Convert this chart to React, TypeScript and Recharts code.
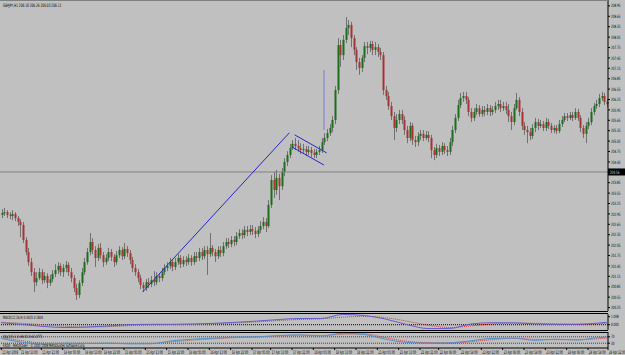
import React from 'react';
import { ComposedChart, Bar, XAxis, YAxis, ReferenceLine, LineChart, Line } from 'recharts';

const BG = '#c0c0c0';
const BULL = '#1a6e1a';
const BEAR = '#a83232';
const WICK = '#707070';
const TREND = '#2626c4';
const FONT = 'DejaVu Sans, sans-serif';

const symbolTitle = 'GBPJPY,H1  206.18 206.26 206.03 206.12';
const macdTitle = 'MACD(12,26,9) 0.3015 0.1803';
const stochTitle = 'Stoch(5,3,3) 68.4123 62.0771';
const footer = 'FXDD - MetaTrader - \u00a9 2001-2008 MetaQuotes Software Corp.';

const opens = [
  202.92, 202.98, 203.00, 202.92, 202.89, 202.95, 202.83, 202.72, 202.63, 202.20,
  201.85, 201.56, 201.27, 200.98, 201.10, 201.27, 201.04, 201.16, 200.96, 201.07,
  201.22, 201.33, 201.45, 201.27, 201.39, 201.48, 201.27, 201.10, 200.81, 200.61,
  200.96, 201.27, 201.56, 201.85, 202.14, 201.91, 201.68, 201.97, 201.76, 201.56,
  201.68, 201.85, 201.71, 201.56, 201.76, 201.91, 201.73, 201.94, 201.82, 201.62,
  201.39, 201.27, 201.10, 200.90, 200.81, 200.98, 200.93, 201.04, 200.98, 201.16,
  201.10, 201.27, 201.39, 201.45, 201.56, 201.42, 201.56, 201.68, 201.50, 201.62,
  201.56, 201.68, 201.56, 201.73, 201.68, 201.85, 201.73, 201.91, 201.79, 201.97,
  201.85, 201.73, 201.91, 201.82, 202.02, 202.14, 202.08, 202.20, 202.14, 202.31,
  202.40, 202.34, 202.49, 202.43, 202.51, 202.46, 202.37, 202.49, 202.60, 202.72,
  202.60, 203.21, 203.93, 203.64, 203.99, 203.75, 204.16, 204.45, 204.65, 204.85,
  204.97, 204.91, 204.85, 204.79, 204.82, 204.74, 204.79, 204.71, 204.65, 204.74,
  204.79, 205.02, 205.14, 205.28, 205.43, 205.66, 206.52, 207.82, 207.53, 207.97,
  208.31, 208.40, 208.02, 207.68, 207.33, 207.16, 207.45, 207.79, 207.74, 207.85,
  207.68, 207.76, 207.62, 207.53, 206.52, 206.35, 206.06, 205.77, 205.43, 205.66,
  205.83, 205.66, 205.37, 205.14, 205.49, 205.08, 205.02, 205.20, 205.26, 205.14,
  205.23, 205.14, 204.79, 204.65, 204.85, 204.74, 204.91, 204.79, 204.74, 205.02,
  205.37, 205.72, 206.09, 206.29, 206.35, 206.24, 205.89, 205.72, 205.89, 206.00,
  205.83, 205.95, 205.89, 206.00, 205.89, 205.95, 206.06, 206.12, 206.00, 206.06,
  205.95, 205.77, 205.60, 206.00, 206.24, 205.89, 205.49, 205.37, 205.31, 205.20,
  205.43, 205.60, 205.49, 205.54, 205.43, 205.60, 205.49, 205.37, 205.43, 205.34,
  205.54, 205.66, 205.77, 205.72, 205.80, 205.72, 205.89, 205.72, 205.43, 205.26,
  205.49, 205.60, 205.89, 206.06, 206.12, 206.29, 206.35, 206.18,
];

const highs = [
  203.09, 203.12, 203.06, 203.00, 203.06, 203.00, 202.89, 202.80, 202.72, 202.28,
  201.97, 201.68, 201.39, 201.27, 201.39, 201.36, 201.27, 201.24, 201.19, 201.33,
  201.50, 201.56, 201.53, 201.50, 201.59, 201.56, 201.39, 201.19, 200.93, 201.04,
  201.39, 201.68, 201.97, 202.40, 202.25, 202.02, 202.08, 202.11, 201.85, 201.79,
  201.97, 201.94, 201.79, 201.88, 202.02, 201.99, 202.11, 202.02, 201.91, 201.71,
  201.50, 201.36, 201.19, 200.98, 201.07, 201.10, 201.16, 201.30, 201.27, 201.24,
  201.39, 201.50, 201.56, 201.68, 201.65, 201.68, 201.79, 201.76, 201.73, 201.73,
  201.79, 201.76, 201.85, 201.85, 201.97, 201.97, 202.02, 202.02, 202.40, 202.05,
  201.94, 202.02, 202.02, 202.14, 202.25, 202.25, 202.31, 202.31, 202.43, 202.51,
  202.51, 202.60, 202.60, 202.63, 202.63, 202.57, 202.60, 202.74, 202.86, 202.83,
  203.35, 204.07, 204.16, 204.22, 204.10, 204.27, 204.56, 204.76, 204.97, 205.08,
  205.14, 205.08, 204.99, 204.97, 204.91, 204.91, 204.88, 204.82, 204.82, 204.91,
  205.14, 205.28, 205.40, 205.54, 205.77, 206.64, 208.02, 207.97, 208.11, 208.63,
  208.54, 208.49, 208.11, 207.76, 207.45, 207.53, 207.91, 207.91, 207.94, 207.94,
  207.91, 207.85, 207.74, 207.62, 206.64, 206.47, 206.18, 205.89, 205.83, 205.95,
  205.95, 205.77, 205.49, 205.60, 205.57, 205.20, 205.31, 205.37, 205.37, 205.34,
  205.34, 205.23, 204.88, 204.97, 204.94, 205.02, 204.99, 204.91, 205.14, 205.49,
  205.83, 206.24, 206.44, 206.47, 206.47, 206.32, 206.00, 206.00, 206.12, 206.09,
  206.06, 206.06, 206.12, 206.09, 206.06, 206.18, 206.24, 206.24, 206.18, 206.18,
  206.12, 205.89, 206.12, 206.44, 206.32, 206.00, 205.60, 205.49, 205.43, 205.54,
  205.72, 205.69, 205.66, 205.63, 205.72, 205.69, 205.57, 205.51, 205.51, 205.66,
  205.77, 205.86, 205.86, 205.89, 205.89, 206.00, 205.98, 205.80, 205.51, 205.60,
  205.72, 206.00, 206.15, 206.24, 206.41, 206.47, 206.44, 206.26,
];

const lows = [
  202.83, 202.89, 202.83, 202.80, 202.77, 202.74, 202.60, 202.28, 202.11, 201.76,
  201.45, 201.16, 200.70, 200.87, 201.04, 200.93, 200.96, 200.81, 200.87, 200.98,
  201.13, 201.22, 201.16, 201.13, 201.27, 201.16, 200.98, 200.70, 200.47, 200.52,
  200.87, 201.19, 201.48, 201.76, 201.79, 201.42, 201.59, 201.65, 201.42, 201.48,
  201.59, 201.59, 201.42, 201.48, 201.68, 201.62, 201.65, 201.71, 201.50, 201.27,
  201.16, 200.98, 200.78, 200.70, 200.73, 200.81, 200.84, 200.87, 200.90, 200.98,
  201.01, 201.19, 201.30, 201.36, 201.30, 201.33, 201.48, 201.39, 201.42, 201.45,
  201.48, 201.45, 201.48, 201.56, 201.59, 201.62, 201.65, 201.19, 201.71, 201.73,
  201.56, 201.65, 201.71, 201.73, 201.94, 201.97, 201.99, 202.02, 202.05, 202.23,
  202.23, 202.25, 202.31, 202.34, 202.34, 202.25, 202.28, 202.40, 202.51, 202.43,
  202.54, 203.12, 203.41, 203.50, 203.35, 203.64, 204.04, 204.33, 204.56, 204.79,
  204.79, 204.74, 204.68, 204.71, 204.62, 204.65, 204.59, 204.56, 204.56, 204.65,
  204.71, 204.94, 205.05, 205.20, 205.31, 205.54, 206.41, 207.19, 207.39, 207.88,
  208.11, 207.76, 207.53, 207.10, 206.96, 207.04, 207.33, 207.56, 207.62, 207.53,
  207.53, 207.48, 207.39, 206.38, 206.24, 205.95, 205.66, 205.08, 205.31, 205.54,
  205.54, 205.23, 204.99, 205.05, 204.94, 204.88, 204.91, 205.08, 205.05, 205.08,
  205.02, 204.56, 204.50, 204.56, 204.62, 204.65, 204.68, 204.62, 204.65, 204.91,
  205.28, 205.63, 206.00, 206.18, 206.12, 205.77, 205.60, 205.63, 205.80, 205.75,
  205.75, 205.77, 205.80, 205.77, 205.80, 205.86, 205.95, 205.89, 205.92, 205.83,
  205.60, 205.37, 205.51, 205.95, 205.77, 205.37, 205.23, 204.99, 205.08, 205.11,
  205.31, 205.37, 205.43, 205.34, 205.34, 205.40, 205.28, 205.28, 205.26, 205.28,
  205.46, 205.60, 205.63, 205.66, 205.63, 205.66, 205.63, 205.31, 205.14, 204.99,
  205.40, 205.51, 205.80, 205.98, 206.03, 206.21, 206.09, 206.03,
];

const closes = [
  202.98, 203.00, 202.92, 202.89, 202.95, 202.83, 202.72, 202.63, 202.20, 201.85,
  201.56, 201.27, 200.98, 201.10, 201.27, 201.04, 201.16, 200.96, 201.07, 201.22,
  201.33, 201.45, 201.27, 201.39, 201.48, 201.27, 201.10, 200.81, 200.61, 200.96,
  201.27, 201.56, 201.85, 202.14, 201.91, 201.68, 201.97, 201.76, 201.56, 201.68,
  201.85, 201.71, 201.56, 201.76, 201.91, 201.73, 201.94, 201.82, 201.62, 201.39,
  201.27, 201.10, 200.90, 200.81, 200.98, 200.93, 201.04, 200.98, 201.16, 201.10,
  201.27, 201.39, 201.45, 201.56, 201.42, 201.56, 201.68, 201.50, 201.62, 201.56,
  201.68, 201.56, 201.73, 201.68, 201.85, 201.73, 201.91, 201.79, 201.97, 201.85,
  201.73, 201.91, 201.82, 202.02, 202.14, 202.08, 202.20, 202.14, 202.31, 202.40,
  202.34, 202.49, 202.43, 202.51, 202.46, 202.37, 202.49, 202.60, 202.72, 202.60,
  203.21, 203.93, 203.64, 203.99, 203.75, 204.16, 204.45, 204.65, 204.85, 204.97,
  204.91, 204.85, 204.79, 204.82, 204.74, 204.79, 204.71, 204.65, 204.74, 204.79,
  205.02, 205.14, 205.28, 205.43, 205.66, 206.52, 207.82, 207.53, 207.97, 208.31,
  208.40, 208.02, 207.68, 207.33, 207.16, 207.45, 207.79, 207.74, 207.85, 207.68,
  207.76, 207.62, 207.53, 206.52, 206.35, 206.06, 205.77, 205.43, 205.66, 205.83,
  205.66, 205.37, 205.14, 205.49, 205.08, 205.02, 205.20, 205.26, 205.14, 205.23,
  205.14, 204.79, 204.65, 204.85, 204.74, 204.91, 204.79, 204.74, 205.02, 205.37,
  205.72, 206.09, 206.29, 206.35, 206.24, 205.89, 205.72, 205.89, 206.00, 205.83,
  205.95, 205.89, 206.00, 205.89, 205.95, 206.06, 206.12, 206.00, 206.06, 205.95,
  205.77, 205.60, 206.00, 206.24, 205.89, 205.49, 205.37, 205.31, 205.20, 205.43,
  205.60, 205.49, 205.54, 205.43, 205.60, 205.49, 205.37, 205.43, 205.34, 205.54,
  205.66, 205.77, 205.72, 205.80, 205.72, 205.89, 205.72, 205.43, 205.26, 205.49,
  205.60, 205.89, 206.06, 206.12, 206.29, 206.35, 206.18, 206.12,
];

const priceTicks = [
  208.95, 208.65, 208.35, 208.05, 207.75, 207.45, 207.15, 206.85, 206.55, 206.25,
  205.95, 205.65, 205.35, 205.05, 204.75, 204.45, 204.15, 203.85, 203.55, 203.25,
  202.95, 202.65, 202.35, 202.05, 201.75, 201.45, 201.15, 200.85, 200.55, 200.25,
];
const priceDomain = [200.15, 209.12];
const bidPrice = 204.16;

// drawn objects (bar index, price)
const trendLines = [
  { x1: 53, y1: 200.70, x2: 108, y2: 205.29, color: TREND },
  { x1: 110, y1: 205.23, x2: 122, y2: 204.71, color: TREND },
  { x1: 109, y1: 204.88, x2: 121, y2: 204.36, color: TREND },
  { x1: 121, y1: 207.10, x2: 121, y2: 205.37, color: '#7a7ae0' },
];

const timeTickPos = [0, 7, 15, 23, 31, 38, 46, 54, 62, 70, 78, 86, 94, 101, 109, 117, 125, 133, 141, 149, 157, 164, 172, 180, 188, 196, 204, 212, 220, 227.5];
const timeLabels = [
  '11 Apr 2008', '11 Apr 13:00', '11 Apr 21:00', '14 Apr 05:00', '14 Apr 13:00', '14 Apr 21:00',
  '15 Apr 05:00', '15 Apr 13:00', '15 Apr 21:00', '16 Apr 05:00', '16 Apr 13:00', '16 Apr 21:00',
  '17 Apr 05:00', '17 Apr 13:00', '17 Apr 21:00', '18 Apr 05:00', '18 Apr 13:00', '18 Apr 21:00',
  '21 Apr 05:00', '21 Apr 13:00', '21 Apr 21:00', '22 Apr 06:00', '22 Apr 14:00', '22 Apr 22:00',
  '23 Apr 06:00', '23 Apr 14:00', '23 Apr 22:00', '24 Apr 06:00', '24 Apr 14:00', '24 Apr 22:00',
];

const sampleIdx = [0, 8, 16, 24, 32, 40, 48, 56, 64, 72, 80, 88, 96, 104, 112, 120, 128, 136, 144, 152, 160, 168, 176, 184, 192, 200, 208, 216, 224, 227];
const macdMain = [0.25, 0.03, -0.22, -0.35, -0.29, -0.16, 0.00, 0.05, 0.05, 0.09, 0.18, 0.30, 0.46, 0.65, 0.78, 0.78, 1.28, 1.15, 0.71, 0.03, -0.48, -0.48, 0.09, 0.25, 0.24, 0.11, 0.05, 0.05, 0.21, 0.30];
const macdSignal = [0.30, 0.18, -0.02, -0.20, -0.28, -0.24, -0.12, -0.02, 0.03, 0.06, 0.12, 0.22, 0.36, 0.52, 0.66, 0.74, 0.95, 1.05, 0.88, 0.45, -0.05, -0.35, -0.15, 0.10, 0.20, 0.18, 0.10, 0.07, 0.12, 0.18];
const macdTicks = [1.008, 0];
const macdDomain = [-0.66, 1.34];

const stochMain = [60, 35, 25, 30, 28, 30, 26, 27, 45, 55, 62, 68, 70, 78, 82, 75, 92, 85, 55, 35, 30, 32, 45, 60, 62, 48, 55, 50, 65, 68];
const stochSignal = [65, 45, 30, 28, 29, 29, 28, 27, 38, 50, 58, 65, 69, 75, 80, 78, 86, 88, 65, 42, 33, 31, 40, 52, 60, 54, 52, 52, 58, 62];
const stochLevels = [70, 30];
const stochTicks = [70, 30];

const candles = opens.map((o, i) => ({ i, o, h: highs[i], l: lows[i], c: closes[i] }));
const macdData = sampleIdx.map((i, k) => ({ i, m: macdMain[k], s: macdSignal[k] }));
const stochData = sampleIdx.map((i, k) => ({ i, k: stochMain[k], d: stochSignal[k] }));

const Candle = (props: any) => {
  const { x, y, width, height, payload } = props;
  if (!payload || height == null) return null;
  const { o, h, l, c } = payload;
  const top = Math.min(y, y + height);
  const full = Math.abs(height);
  const ratio = full / (h - l);
  const bTop = top + (h - Math.max(o, c)) * ratio;
  const bBot = top + (h - Math.min(o, c)) * ratio;
  const cx = Math.round(x + width / 2);
  const bull = c >= o;
  return (
    <g>
      <line x1={cx + 0.5} x2={cx + 0.5} y1={top} y2={top + full} stroke={WICK} strokeWidth={1} />
      <rect x={cx - 0.5} y={bTop} width={2} height={Math.max(bBot - bTop, 1)} fill={bull ? BULL : BEAR} />
    </g>
  );
};

// text squeezed horizontally, like the bitmap font of the original
const Squeezed = ({ x, y, s, sx, size, fill }: any) => (
  <text transform={`translate(${x},${y}) scale(${sx},1)`} fontSize={size} fontFamily={FONT} fill={fill || '#000'}>
    {s}
  </text>
);

const AxisTick = (props: any) => {
  const { x, y, payload, digits } = props;
  const v = payload.value;
  const s = typeof v === 'number' ? v.toFixed(digits) : String(v);
  return (
    <g>
      <line x1={x} x2={x + 2} y1={y} y2={y} stroke="#000" strokeWidth={1} />
      <Squeezed x={x + 3} y={y + 1.6} s={s} sx={0.6} size={4.5} />
    </g>
  );
};

const TimeTick = (props: any) => {
  const { x, y, payload } = props;
  const k = timeTickPos.indexOf(payload.value);
  return (
    <g>
      <line x1={x} x2={x} y1={y} y2={y + 2} stroke="#000" strokeWidth={1} />
      <Squeezed x={x + 1} y={y + 6.3} s={timeLabels[k]} sx={0.52} size={4.9} />
    </g>
  );
};

const BidLabel = (props: any) => {
  const vb = props.viewBox || {};
  const x = (vb.x || 0) + (vb.width || 0);
  const y = vb.y || 0;
  return (
    <g>
      <rect x={x} y={y - 3.5} width={17} height={7} fill="#000" />
      <Squeezed x={x + 2} y={y + 1.6} s={bidPrice.toFixed(2)} sx={0.6} size={4.5} fill="#fff" />
    </g>
  );
};

export default function App() {
  return (
    <div style={{ position: 'absolute', left: 0, top: 0, width: 625, height: 355, background: BG, overflow: 'hidden' }}>
      <div style={{ position: 'absolute', left: 0, top: 0 }}>
        <ComposedChart width={625} height={312} data={candles} margin={{ top: 0, right: 0, bottom: 1, left: 0 }} barCategoryGap={0}>
          <XAxis dataKey="i" type="category" hide />
          <YAxis
            orientation="right"
            width={17}
            domain={priceDomain}
            ticks={priceTicks}
            allowDataOverflow
            interval={0}
            tickSize={0}
            tickMargin={0}
            tickLine={false}
            axisLine={{ stroke: '#000' }}
            tick={<AxisTick digits={2} />}
          />
          <ReferenceLine y={bidPrice} stroke="#808080" strokeWidth={1} label={<BidLabel />} />
          <Bar dataKey={(d: any) => [d.l, d.h]} shape={<Candle />} isAnimationActive={false} />
          {trendLines.map((t, k) => (
            <ReferenceLine
              key={k}
              segment={[{ x: t.x1, y: t.y1 }, { x: t.x2, y: t.y2 }]}
              stroke={t.color}
              strokeWidth={1}
              ifOverflow="visible"
            />
          ))}
        </ComposedChart>
      </div>
      <div style={{ position: 'absolute', left: 0, top: 313 }}>
        <LineChart width={625} height={18} data={macdData} margin={{ top: 1, right: 0, bottom: 1, left: 0 }}>
          <XAxis dataKey="i" type="number" domain={[-0.5, 227.5]} hide allowDataOverflow />
          <YAxis
            orientation="right"
            width={17}
            domain={macdDomain}
            ticks={macdTicks}
            allowDataOverflow
            interval={0}
            tickSize={0}
            tickMargin={0}
            tickLine={false}
            axisLine={{ stroke: '#000' }}
            tick={<AxisTick digits={3} />}
          />
          <ReferenceLine y={0} stroke="#000" strokeDasharray="1 1" />
          <Line dataKey="s" type="monotone" stroke="#d04040" strokeDasharray="1 1" dot={false} isAnimationActive={false} />
          <Line dataKey="m" type="monotone" stroke="#6a5acd" dot={false} isAnimationActive={false} />
        </LineChart>
      </div>
      <div style={{ position: 'absolute', left: 0, top: 331 }}>
        <LineChart width={625} height={24} data={stochData} margin={{ top: 1, right: 0, bottom: 0, left: 0 }}>
          <XAxis
            dataKey="i"
            type="number"
            domain={[-0.5, 227.5]}
            allowDataOverflow
            ticks={timeTickPos}
            interval={0}
            height={7}
            tickSize={0}
            tickMargin={0}
            tickLine={false}
            axisLine={{ stroke: '#000' }}
            tick={<TimeTick />}
          />
          <YAxis
            orientation="right"
            width={17}
            domain={[0, 100]}
            ticks={stochTicks}
            allowDataOverflow
            interval={0}
            tickSize={0}
            tickMargin={0}
            tickLine={false}
            axisLine={{ stroke: '#000' }}
            tick={<AxisTick digits={0} />}
          />
          {stochLevels.map((lv) => (
            <ReferenceLine key={lv} y={lv} stroke="#404040" strokeDasharray="1 1" />
          ))}
          <Line dataKey="d" type="monotone" stroke="#d04040" strokeDasharray="1 1" dot={false} isAnimationActive={false} />
          <Line dataKey="k" type="monotone" stroke="#4f8fd0" dot={false} isAnimationActive={false} />
        </LineChart>
      </div>
      <svg width={625} height={355} style={{ position: 'absolute', left: 0, top: 0, pointerEvents: 'none' }}>
        <line x1={0} x2={608} y1={0.5} y2={0.5} stroke="#808080" />
        <line x1={0} x2={608} y1={311.5} y2={311.5} stroke="#000" />
        <line x1={0} x2={608} y1={313.5} y2={313.5} stroke="#000" />
        <line x1={0} x2={608} y1={330.5} y2={330.5} stroke="#000" />
        <line x1={0} x2={608} y1={332.5} y2={332.5} stroke="#000" />
        <Squeezed x={3} y={7} s={symbolTitle} sx={0.62} size={4.6} />
        <Squeezed x={3} y={318.5} s={macdTitle} sx={0.6} size={4.4} />
        <Squeezed x={3} y={337.5} s={stochTitle} sx={0.6} size={4.4} />
        <Squeezed x={3} y={346.5} s={footer} sx={0.6} size={4.4} />
      </svg>
    </div>
  );
}
